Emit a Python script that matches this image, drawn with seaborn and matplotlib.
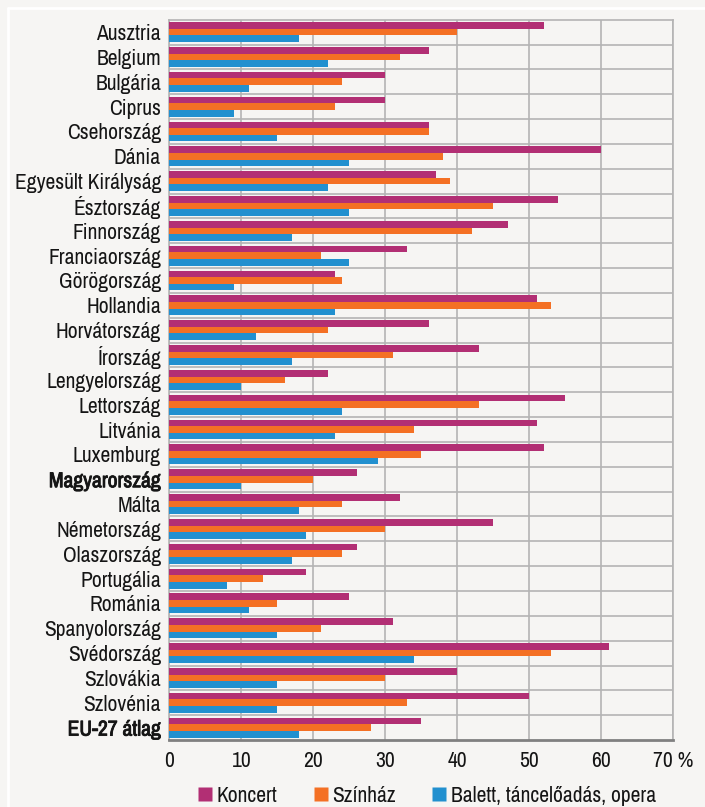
import pandas as pd
import matplotlib.pyplot as plt
import matplotlib.lines as mlines
import matplotlib.patheffects as pe
import seaborn as sns

# ==============================================================
# DATA
# ==============================================================

countries = [
    "Ausztria", "Belgium", "Bulgária", "Ciprus", "Csehország", "Dánia",
    "Egyesült Királyság", "Észtország", "Finnország", "Franciaország",
    "Görögország", "Hollandia", "Horvátország", "Írország", "Lengyelország",
    "Lettország", "Litvánia", "Luxemburg", "Magyarország", "Málta",
    "Németország", "Olaszország", "Portugália", "Románia", "Spanyolország",
    "Svédország", "Szlovákia", "Szlovénia", "EU-27 átlag",
]

koncert = [52, 36, 30, 30, 36, 60, 37, 54, 47, 33, 23, 51, 36, 43, 22,
           55, 51, 52, 26, 32, 45, 26, 19, 25, 31, 61, 40, 50, 35]
szinhaz = [40, 32, 24, 23, 36, 38, 39, 45, 42, 21, 24, 53, 22, 31, 16,
           43, 34, 35, 20, 24, 30, 24, 13, 15, 21, 53, 30, 33, 28]
balett = [18, 22, 11, 9, 15, 25, 22, 25, 17, 25, 9, 23, 12, 17, 10,
          24, 23, 29, 10, 18, 19, 17, 8, 11, 15, 34, 15, 15, 18]

series_names = ["Koncert", "Színház", "Balett, táncelőadás, opera"]
colors = ["#b22f74", "#f47024", "#2290cf"]
bold_labels = ["Magyarország", "EU-27 átlag"]

xticks = [0, 10, 20, 30, 40, 50, 60, 70]

df = pd.DataFrame({
    "orszag": countries * 3,
    "ertek": koncert + szinhaz + balett,
    "tipus": [series_names[0]] * len(countries)
             + [series_names[1]] * len(countries)
             + [series_names[2]] * len(countries),
})

# ==============================================================
# PLOT
# ==============================================================

bg = "#f6f5f3"
txt = "#151515"
fs = 15.5
sns.set_style("white")
plt.rcParams["font.family"] = ["Archivo Narrow", "Liberation Sans", "DejaVu Sans"]

fig = plt.figure(figsize=(7.05, 8.07), dpi=100, facecolor=bg)
ax = fig.add_axes([0.2403, 0.083, 0.7149, 0.8926])
ax.set_facecolor(bg)

sns.barplot(
    data=df, x="ertek", y="orszag", hue="tipus",
    order=countries, hue_order=series_names, palette=colors,
    orient="h", width=0.8, saturation=1, errorbar=None,
    edgecolor="none", ax=ax, zorder=3,
)

ax.set_xlim(0, 70)
ax.set_ylim(len(countries) - 0.5, -0.5)
ax.set_xticks(xticks)
ax.set_xticklabels([str(t) for t in xticks[:-1]] + ["70 %"])
ax.set_xlabel("")
ax.set_ylabel("")

# grid: vertical at ticks, horizontal between categories
ax.set_yticks([i + 0.5 for i in range(len(countries) - 1)], minor=True)
ax.grid(axis="x", which="major", color="#b4b4b4", linewidth=1.2, zorder=0)
ax.grid(axis="y", which="minor", color="#b4b4b4", linewidth=1.2, zorder=0)
ax.tick_params(axis="y", which="both", length=0, labelsize=fs, pad=6, labelcolor=txt)
ax.tick_params(axis="x", length=5, width=1.5, color="#808080", labelsize=fs, pad=3,
               labelcolor=txt)

# Archivo Narrow has no bold face, thicken the strokes instead
for lab in ax.get_yticklabels():
    if lab.get_text() in bold_labels:
        lab.set_path_effects([pe.withStroke(linewidth=0.6, foreground=txt)])

for side in ["top", "right", "left"]:
    ax.spines[side].set_color("#b4b4b4")
    ax.spines[side].set_linewidth(1.2)
ax.spines["bottom"].set_color("#808080")
ax.spines["bottom"].set_linewidth(2)

# legend
ax.get_legend().remove()
handles = [mlines.Line2D([], [], marker="s", linestyle="none", markersize=10,
                         markerfacecolor=c, markeredgecolor="none") for c in colors]
fig.legend(handles, series_names, loc="center", bbox_to_anchor=(0.603, 0.014),
           ncol=3, frameon=False, fontsize=fs, handletextpad=0.05,
           columnspacing=1.5, handlelength=1.0, labelcolor=txt)

# white frame lines at top-left
fig.add_artist(mlines.Line2D([8 / 705, 1], [1 - 8 / 807, 1 - 8 / 807],
                             color="white", linewidth=2, transform=fig.transFigure))
fig.add_artist(mlines.Line2D([8 / 705, 8 / 705], [0, 1 - 8 / 807],
                             color="white", linewidth=2, transform=fig.transFigure))

fig.savefig("out.png", dpi=100, facecolor=bg)
